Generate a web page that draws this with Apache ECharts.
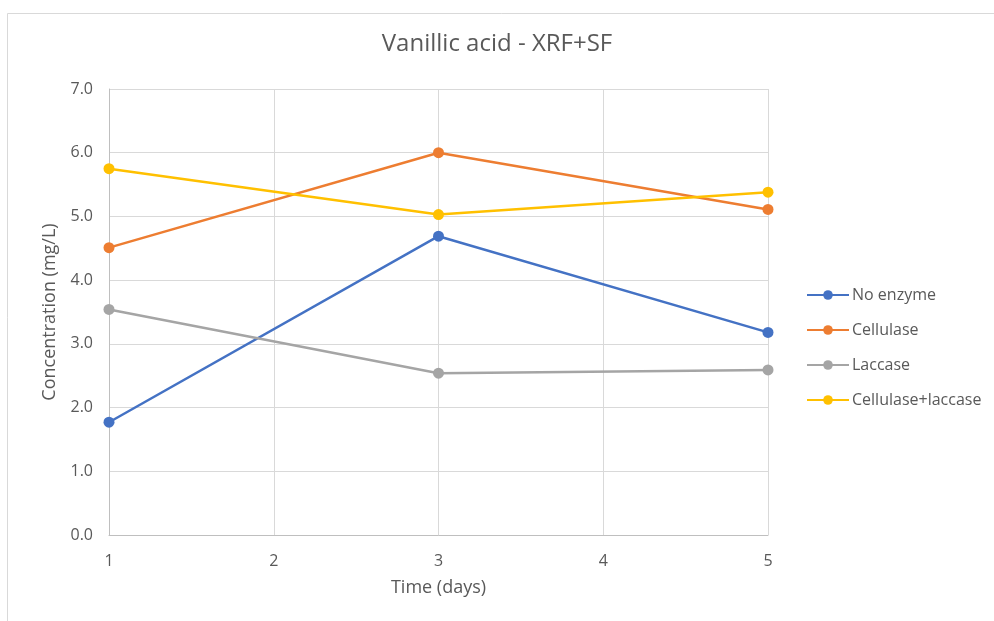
<!DOCTYPE html>
<html>
<head>
<meta charset="utf-8">
<script src="https://cdn.jsdelivr.net/npm/echarts@6/dist/echarts.min.js"></script>
<style>html,body{margin:0;padding:0;background:#fff;}#c{width:994px;height:621px;}</style>
</head>
<body>
<div id="c"></div>
<script>
const days = [1, 3, 5];
const noEnzyme = [1.77, 4.69, 3.18];
const cellulase = [4.51, 6.00, 5.11];
const laccase = [3.54, 2.54, 2.59];
const cellLacc = [5.75, 5.03, 5.38];
const seriesNames = ['No enzyme', 'Cellulase', 'Laccase', 'Cellulase+laccase'];
const seriesColors = ['#4472C4', '#ED7D31', '#A5A5A5', '#FFC000'];
const seriesValues = [noEnzyme, cellulase, laccase, cellLacc];

const font = 'Open Sans, Liberation Sans, sans-serif';
const chart = echarts.init(document.getElementById('c'));
chart.setOption({
  backgroundColor: '#fff',
  animation: false,
  graphic: [{
    type: 'rect', left: 5, top: 11,
    shape: { width: 1000, height: 620 },
    style: { fill: 'none', stroke: '#D9D9D9', lineWidth: 1 },
    silent: true
  }],
  title: {
    text: 'Vanillic acid - XRF+SF',
    left: 'center', top: 27,
    textStyle: { fontFamily: font, fontSize: 24, fontWeight: 'normal', color: '#595959' }
  },
  grid: { left: 109, right: 226, top: 89, bottom: 86 },
  legend: {
    orient: 'vertical', left: 801, top: 282, itemGap: 19,
    itemWidth: 42, itemHeight: 12,
    textStyle: { fontFamily: font, fontSize: 16, color: '#595959', padding: [0,0,0,-2] },
    data: seriesNames
  },
  xAxis: {
    type: 'value', min: 1, max: 5, interval: 1,
    name: 'Time (days)', nameLocation: 'middle', nameGap: 44,
    nameTextStyle: { fontFamily: font, fontSize: 18, color: '#595959' },
    axisLine: { lineStyle: { color: '#BFBFBF', width: 1 } },
    axisTick: { show: false },
    axisLabel: { fontFamily: font, fontSize: 16, color: '#595959', margin: 18 },
    splitLine: { show: true, lineStyle: { color: '#D9D9D9', width: 1 } }
  },
  yAxis: {
    type: 'value', min: 0, max: 7, interval: 1,
    name: 'Concentration (mg/L)', nameLocation: 'middle', nameGap: 50,
    nameTextStyle: { fontFamily: font, fontSize: 18, color: '#595959' },
    axisLine: { show: true, lineStyle: { color: '#BFBFBF', width: 1 } },
    axisTick: { show: false },
    axisLabel: { fontFamily: font, fontSize: 16, color: '#595959', margin: 16,
      formatter: v => v.toFixed(1) },
    splitLine: { show: true, lineStyle: { color: '#D9D9D9', width: 1 } }
  },
  series: seriesNames.map((n, i) => ({
    name: n, type: 'line',
    data: days.map((d, j) => [d, seriesValues[i][j]]),
    color: seriesColors[i],
    symbol: 'circle', symbolSize: 11,
    lineStyle: { width: 2.5, color: seriesColors[i] },
    itemStyle: { color: seriesColors[i] }
  }))
});
</script>
</body>
</html>
